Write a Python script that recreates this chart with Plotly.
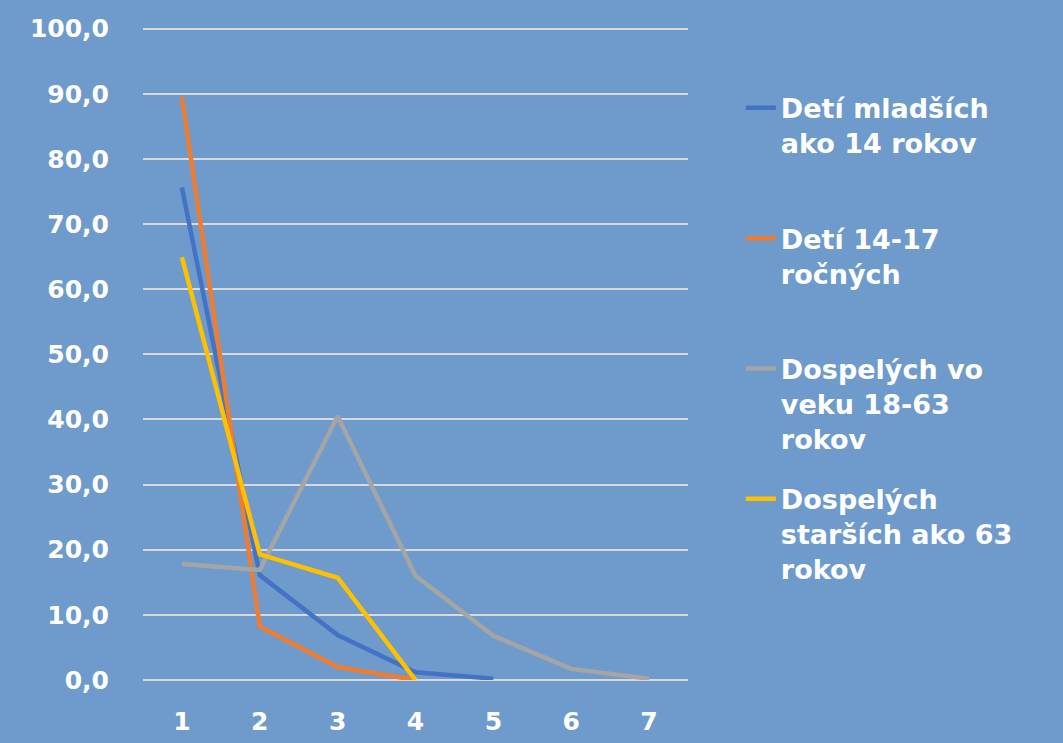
import plotly.graph_objects as go

categories = [1, 2, 3, 4, 5, 6, 7]

names = [
    "Detí mladších<br>ako 14 rokov<br> ",
    "Detí 14-17<br>ročných<br> ",
    "Dospelých vo<br>veku 18-63<br>rokov",
    "Dospelých<br>starších ako 63<br>rokov",
]
deti_mladsie = [75.6, 16.1, 6.9, 1.2, 0.2]
deti_14_17 = [89.5, 8.2, 2.0, 0.0]
dospeli_18_63 = [17.8, 16.9, 40.5, 16.0, 6.8, 1.7, 0.2]
dospeli_63 = [64.9, 19.3, 15.7, 0.0]

series = [deti_mladsie, deti_14_17, dospeli_18_63, dospeli_63]
colors = ["#4472C4", "#ED7D31", "#A5A5A5", "#FFC000"]

bg = "#6E9BCB"
font_family = "DejaVu Sans"

fig = go.Figure()
for i, (name, vals, col) in enumerate(zip(names, series, colors)):
    fig.add_trace(go.Scatter(
        x=categories[:len(vals)], y=vals, name=name, mode="lines",
        line=dict(color=col, width=4.5),
        legendgroup=f"g{i}",
    ))

fig.update_layout(
    width=1063, height=743,
    paper_bgcolor=bg, plot_bgcolor=bg,
    margin=dict(l=143, r=375, t=27, b=63),
    separators=", ",
    font=dict(family=font_family, color="white", size=25, weight="bold"),
    showlegend=True,
    legend=dict(
        x=1.097, y=0.913, xanchor="left", yanchor="top",
        font=dict(family=font_family, size=27, color="white", weight="bold"),
        valign="top", tracegroupgap=22,
        bgcolor="rgba(0,0,0,0)",
    ),
)
fig.update_xaxes(
    range=[0.5, 7.5], tickmode="array", tickvals=categories,
    showgrid=False, zeroline=False, showline=False,
    ticklabelstandoff=24, automargin=False,
    tickfont=dict(family=font_family, size=25, color="white", weight="bold"),
)
fig.update_yaxes(
    range=[0, 100.25], dtick=10, tickformat=".1f",
    showgrid=True, gridcolor="#D9D9D9", gridwidth=1.5,
    zeroline=True, zerolinecolor="#D9D9D9", zerolinewidth=1.5,
    showline=False, ticklabelstandoff=33, automargin=False,
    tickfont=dict(family=font_family, size=25, color="white", weight="bold"),
)

fig.write_html("out.html", config={"displayModeBar": False},
               post_script="document.body.style.margin='0';")
